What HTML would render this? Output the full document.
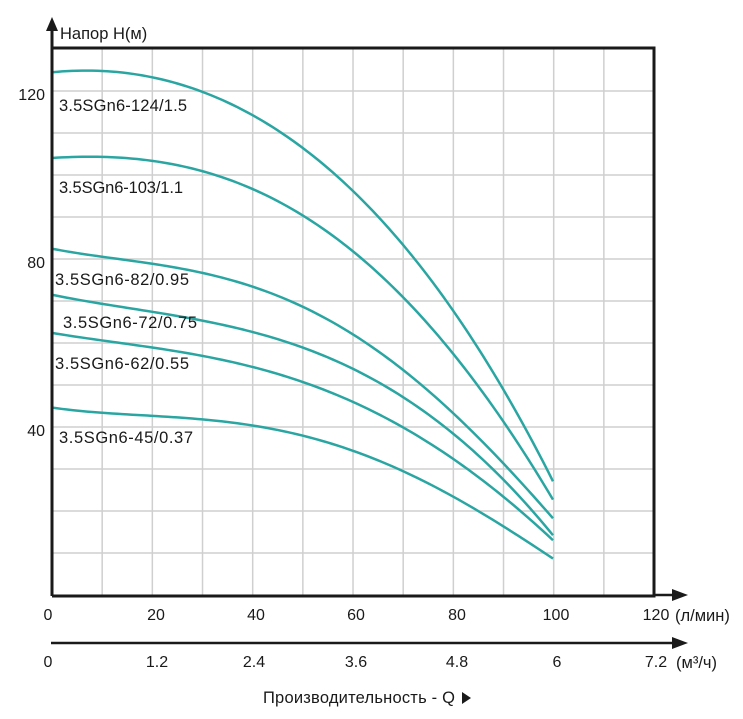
<!DOCTYPE html>
<html><head><meta charset="utf-8">
<style>
html,body{margin:0;padding:0;background:#fff;}
svg{display:block;}
text{font-family:"Liberation Sans",sans-serif;fill:#1a1a1a;}
</style></head><body>
<svg id="s" width="743" height="719" viewBox="0 0 743 719" xmlns="http://www.w3.org/2000/svg">
<g id="grid" stroke="#cfcfcf" stroke-width="1.5"></g>
<g id="curves" fill="none" stroke="#2aa6a2" stroke-width="2.5"></g>
<path d="M52,596 L654,596 L654,48 L52,48" fill="none" stroke="#1a1a1a" stroke-width="3"/>
<line x1="52" y1="596" x2="52" y2="28" stroke="#1a1a1a" stroke-width="3"/>
<polygon points="52,17 46,31 58,31" fill="#1a1a1a"/>
<line x1="654" y1="595" x2="672" y2="595" stroke="#1a1a1a" stroke-width="2.5"/>
<polygon points="688,595 672,589 672,601" fill="#1a1a1a"/>
<line x1="51" y1="643" x2="672" y2="643" stroke="#1a1a1a" stroke-width="2.5"/>
<polygon points="688,643 672,637 672,649" fill="#1a1a1a"/>
<text x="60" y="39" font-size="16.5">Напор H(м)</text>
<g font-size="16" text-anchor="end">
<text x="45" y="100">120</text>
<text x="45" y="268">80</text>
<text x="45" y="436">40</text>
</g>
<g font-size="16" text-anchor="middle">
<text x="48" y="620">0</text><text x="156" y="620">20</text><text x="256" y="620">40</text>
<text x="356" y="620">60</text><text x="457" y="620">80</text><text x="556" y="620">100</text>
<text x="656" y="620">120</text>
<text x="48" y="667">0</text><text x="157" y="667">1.2</text><text x="254" y="667">2.4</text>
<text x="356" y="667">3.6</text><text x="457" y="667">4.8</text><text x="557" y="667">6</text>
<text x="656" y="667">7.2</text>
</g>
<text x="675" y="621" font-size="16.5">(л/мин)</text>
<text x="676" y="668" font-size="16.5">(м³/ч)</text>
<text x="263" y="703" font-size="16.5" textLength="192">Производительность - Q</text>
<polygon points="462,692 462,704 471,698" fill="#1a1a1a"/>
<g font-size="16.5">
<text x="59" y="111" textLength="128">3.5SGn6-124/1.5</text>
<text x="59" y="193" textLength="124">3.5SGn6-103/1.1</text>
<text x="55" y="285" textLength="134">3.5SGn6-82/0.95</text>
<text x="63" y="328" textLength="134">3.5SGn6-72/0.75</text>
<text x="55" y="369" textLength="134">3.5SGn6-62/0.55</text>
<text x="59" y="443" textLength="134">3.5SGn6-45/0.37</text>
</g>
</svg>
<script>
var NS="http://www.w3.org/2000/svg";
function X(q){return 52+5.01*q;}
function Y(h){return 595-4.2*h;}
var g=document.getElementById('grid');
for(var i=1;i<12;i++){var l=document.createElementNS(NS,'line');var x=52+i*50.17;l.setAttribute('x1',x);l.setAttribute('x2',x);l.setAttribute('y1',48);l.setAttribute('y2',595);g.appendChild(l);}
for(var j=1;j<13;j++){var l=document.createElementNS(NS,'line');var y=595-j*42;l.setAttribute('x1',52);l.setAttribute('x2',654);l.setAttribute('y1',y);l.setAttribute('y2',y);g.appendChild(l);}
var qs=[0,10,20,29.5,40,50,60,70,80,90,100];
var data=[
[124.5,124.8,123,120,114.7,106.4,96.4,82.9,67.9,49.5,26.9],
[104,104.6,103,101,96.9,90.7,81.7,70.7,57.6,41.7,22.6],
[82.4,80.6,79,76.7,73.3,68.6,62.4,53.6,43.3,31.4,18.3],
[71.4,69.5,67.5,65.2,62.6,59,54,47.1,38.6,27.4,14.3],
[62.4,60.6,59,57,54.3,50.7,46,40,32.6,23.3,13.1],
[44.5,43.6,42.8,41.7,40,38.1,34.5,29.8,23.3,16.2,8.8]];
function fit(xs,ys,deg){
 var n=deg+1,A=[],b=[];
 for(var r=0;r<n;r++){A.push(new Array(n).fill(0));b.push(0);}
 for(var k=0;k<xs.length;k++){var t=xs[k]/100;
  for(var r=0;r<n;r++){b[r]+=ys[k]*Math.pow(t,r);for(var c2=0;c2<n;c2++)A[r][c2]+=Math.pow(t,r+c2);}}
 for(var i=0;i<n;i++){var p=A[i][i];for(var j=i+1;j<n;j++){var f=A[j][i]/p;for(var k2=i;k2<n;k2++)A[j][k2]-=f*A[i][k2];b[j]-=f*b[i];}}
 var c=new Array(n).fill(0);
 for(var i=n-1;i>=0;i--){var s=b[i];for(var j=i+1;j<n;j++)s-=A[i][j]*c[j];c[i]=s/A[i][i];}
 return function(q){var t=q/100,v=0;for(var i=0;i<n;i++)v+=c[i]*Math.pow(t,i);return v;};
}
var cg=document.getElementById('curves');
data.forEach(function(h){
 var f=fit(qs,h,4);
 var d="";
 for(var q=0;q<=100.001;q+=1){d+=(q===0?"M":" L")+X(q).toFixed(2)+","+Y(f(q)).toFixed(2);}
 var pa=document.createElementNS(NS,'path');pa.setAttribute('d',d);cg.appendChild(pa);
});
</script>
</body></html>
